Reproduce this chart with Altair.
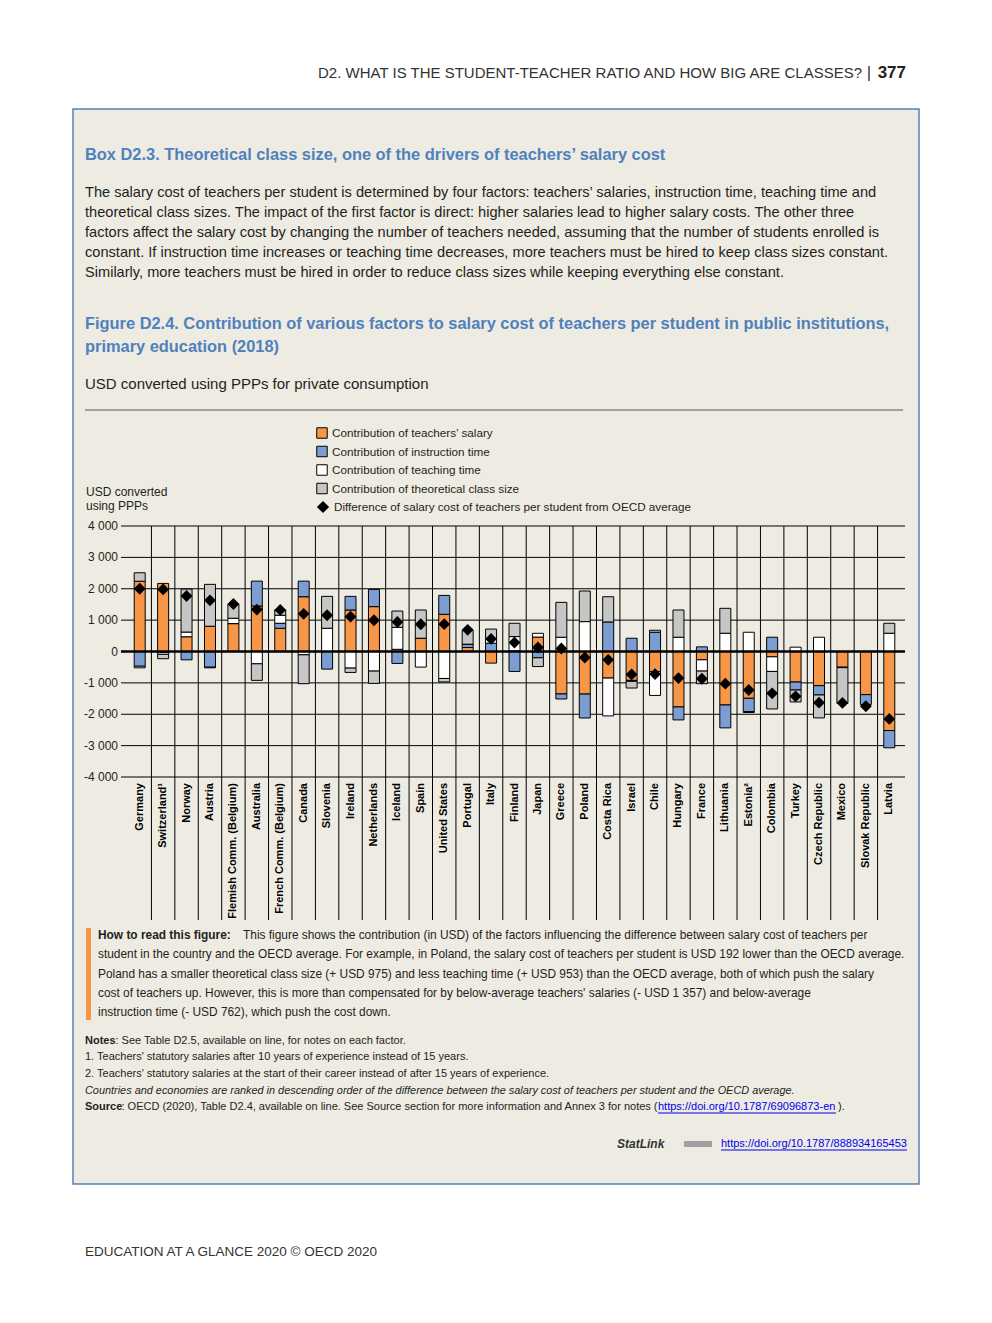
import altair as alt
import pandas as pd

# ---------------- data ----------------
countries = ["Germany", "Switzerland¹", "Norway", "Austria", "Flemish Comm. (Belgium)", "Australia",
             "French Comm. (Belgium)", "Canada", "Slovenia", "Ireland", "Netherlands", "Iceland", "Spain",
             "United States", "Portugal", "Italy", "Finland", "Japan", "Greece", "Poland", "Costa Rica",
             "Israel", "Chile", "Hungary", "France", "Lithuania", "Estonia²", "Colombia", "Turkey",
             "Czech Republic", "Mexico", "Slovak Republic", "Latvia"]
salary = [2240, 2170, 470, 805, 890, 1450, 740, 1746, 0, 1323, 1430, 70, 423, 1185, 127, -370, 20, 460,
          -1354, -1357, -847, -921, -640, -1767, -265, -1704, -1492, -169, -974, -1090, -500, -1375, -2519]
instruction = [-470, -30, -265, -500, 0, 793, 160, 497, -561, 434, 550, -380, 0, 603, 106, 265, -635, -200,
               -159, -762, 942, 423, 614, -413, 148, -730, -423, 455, -254, -296, -15, -318, -550]
teaching = [-50, -60, 150, -20, 170, -392, 255, -106, 741, -529, -624, 700, -497, -860, 0, 120, 456, 120,
            455, 953, -1206, -30, -760, 455, -359, 582, 614, -466, 138, 455, 0, 0, 582]
class_size = [270, -140, 1370, 1335, 455, -528, 170, -920, 1016, -138, -392, 520, 900, -110, 444, 330, 424,
              -280, 1111, 975, 804, -213, 63, 868, -402, 794, -30, -1196, -380, -730, -1140, 0, 318]
difference = [2000, 1980, 1770, 1630, 1515, 1335, 1325, 1200, 1155, 1110, 995, 940, 868, 870, 690, 400,
              286, 127, 95, -192, -265, -730, -720, -847, -868, -1026, -1228, -1333, -1429, -1630, -1640,
              -1745, -2148]
factor_labels = ["Contribution of teachers’ salary", "Contribution of instruction time",
                 "Contribution of teaching time", "Contribution of theoretical class size"]
factor_colors = ["#F79646", "#7C9DD1", "#FFFFFF", "#C6C6C6"]
diff_label = "Difference of salary cost of teachers per student from OECD average"
y_ticks = [-4000, -3000, -2000, -1000, 0, 1000, 2000, 3000, 4000]
y_tick_labels = ["-4 000", "-3 000", "-2 000", "-1 000", "0", "1 000", "2 000", "3 000", "4 000"]

rows = []
for i, c in enumerate(countries):
    for k, vals in enumerate([salary, instruction, teaching, class_size]):
        rows.append({"country": c, "factor": factor_labels[k], "k": k, "value": vals[i]})
bars_df = pd.DataFrame(rows)
diff_df = pd.DataFrame({"country": countries, "diff": difference, "lab": diff_label})
sep_df = pd.DataFrame({"country": countries[1:]})
grid_df = pd.DataFrame({"v": y_ticks, "lab": y_tick_labels})
zero_df = pd.DataFrame({"v": [0]})
cat_df = pd.DataFrame({"country": countries})

# ---------------- layout ----------------
OX, OY = 128, 526          # page position of plot origin
W, H = 773, 251
ARIAL = "Liberation Sans, Arial, sans-serif"
BLUE = "#4F81BD"
INK = "#231F20"

xs = alt.Scale(domain=countries, paddingInner=0, paddingOuter=0)
ys = alt.Scale(domain=[-4000, 4000], nice=False)


def T(text, x, y, size, font=ARIAL, weight="normal", style="normal", color=INK, align="left"):
    return alt.Chart(pd.DataFrame({"t": [text]})).mark_text(
        align=align, baseline="middle", font=font, fontSize=size, fontWeight=weight,
        fontStyle=style, color=color
    ).encode(text="t:N", x=alt.value(x - OX), y=alt.value(y - OY))


def R(x1, x2, y1, y2, fill, stroke=None, sw=0):
    kw = dict(fill=fill)
    if stroke:
        kw.update(stroke=stroke, strokeWidth=sw)
    return alt.Chart(pd.DataFrame({"a": [0]})).mark_rect(**kw).encode(
        x=alt.value(x1 - OX), x2=alt.value(x2 - OX), y=alt.value(y1 - OY), y2=alt.value(y2 - OY))


def L(x1, x2, y, color, sw=1):
    return alt.Chart(pd.DataFrame({"a": [0]})).mark_rule(color=color, strokeWidth=sw).encode(
        x=alt.value(x1 - OX), x2=alt.value(x2 - OX), y=alt.value(y - OY))


box = R(73, 919, 109, 1184, "#EEEBE2", BLUE, 1.5)

grid = alt.Chart(grid_df).mark_rule(color="black", strokeWidth=1).encode(
    y=alt.Y("v:Q", scale=ys, axis=None), x=alt.value(-7), x2=alt.value(777))
ylabels = alt.Chart(grid_df).mark_text(align="right", baseline="middle", font=ARIAL, fontSize=12,
                                       color=INK).encode(
    y=alt.Y("v:Q", scale=ys, axis=None), x=alt.value(-10), text="lab:N")
zero = alt.Chart(zero_df).mark_rule(color="black", strokeWidth=2.5).encode(
    y=alt.Y("v:Q", scale=ys, axis=None), x=alt.value(-7), x2=alt.value(777))
seps = alt.Chart(sep_df).mark_rule(color="black", strokeWidth=1).encode(
    x=alt.X("country:N", scale=xs, bandPosition=0, axis=None),
    y=alt.value(0), y2=alt.value(394))
xlabels = alt.Chart(cat_df).mark_text(angle=270, align="right", baseline="middle", font=ARIAL,
                                      fontSize=11, fontWeight="bold", color="black").encode(
    x=alt.X("country:N", scale=xs, axis=None), y=alt.value(H + 6), text="country:N")

bars = alt.Chart(bars_df).mark_bar(size=11, stroke="black", strokeWidth=1).encode(
    x=alt.X("country:N", scale=xs, axis=None),
    y=alt.Y("value:Q", stack="zero", scale=ys, axis=None),
    color=alt.Color("factor:N", scale=alt.Scale(domain=factor_labels, range=factor_colors),
                    legend=alt.Legend(orient="none", legendX=316 - OX, legendY=427 - OY, title=None,
                                      symbolType="square", symbolSize=110, symbolStrokeColor="black",
                                      symbolStrokeWidth=1, labelFont=ARIAL, labelFontSize=11.7,
                                      labelColor=INK, rowPadding=2.5, padding=0, labelLimit=600,
                                      zindex=2)),
    order=alt.Order("k:Q", sort="ascending"),
)

diamonds = alt.Chart(diff_df).mark_point(filled=True, color="black", size=140, opacity=1).encode(
    x=alt.X("country:N", scale=xs, axis=None),
    y=alt.Y("diff:Q", scale=ys, axis=None),
    shape=alt.Shape("lab:N", scale=alt.Scale(domain=[diff_label], range=["diamond"]),
                    legend=alt.Legend(orient="none", legendX=316 - OX, legendY=500 - OY, title=None,
                                      symbolFillColor="black", symbolStrokeColor="black", symbolSize=150,
                                      labelFont=ARIAL, labelFontSize=11.7, labelColor=INK, padding=0,
                                      labelLimit=600, zindex=2)),
)

texts = [
    T("D2. WHAT IS THE STUDENT-TEACHER RATIO AND HOW BIG ARE CLASSES?", 862, 73, 15, color="#333333", align="right"),
    T("|", 869, 73, 17, color="#333333", align="center"),
    T("377", 906, 73, 17, weight="bold", color="#222222", align="right"),
    T("Box D2.3. Theoretical class size, one of the drivers of teachers’ salary cost", 85, 155, 16.4,
      weight="bold", color=BLUE),
    T("The salary cost of teachers per student is determined by four factors: teachers’ salaries, instruction time, teaching time and", 85, 193, 14.6),
    T("theoretical class sizes. The impact of the first factor is direct: higher salaries lead to higher salary costs. The other three", 85, 213, 14.6),
    T("factors affect the salary cost by changing the number of teachers needed, assuming that the number of students enrolled is", 85, 233, 14.6),
    T("constant. If instruction time increases or teaching time decreases, more teachers must be hired to keep class sizes constant.", 85, 253, 14.6),
    T("Similarly, more teachers must be hired in order to reduce class sizes while keeping everything else constant.", 85, 273, 14.6),
    T("Figure D2.4. Contribution of various factors to salary cost of teachers per student in public institutions,", 85, 324, 16.4,
      weight="bold", color=BLUE),
    T("primary education (2018)", 85, 347, 16.4, weight="bold", color=BLUE),
    T("USD converted using PPPs for private consumption", 85, 384, 15),
    T("USD converted", 86, 492, 12),
    T("using PPPs", 86, 506, 12),
    T("How to read this figure:", 98, 935, 11.9, weight="bold"),
    T("This figure shows the contribution (in USD) of the factors influencing the difference between salary cost of teachers per", 243, 935, 11.9),
    T("student in the country and the OECD average. For example, in Poland, the salary cost of teachers per student is USD 192 lower than the OECD average.", 98, 954, 11.9),
    T("Poland has a smaller theoretical class size (+ USD 975) and less teaching time (+ USD 953) than the OECD average, both of which push the salary", 98, 974, 11.9),
    T("cost of teachers up. However, this is more than compensated for by below-average teachers' salaries (- USD 1 357) and below-average", 98, 993, 11.9),
    T("instruction time (- USD 762), which push the cost down.", 98, 1012, 11.9),
    T("Notes", 85, 1041, 11, weight="bold"),
    T(": See Table D2.5, available on line, for notes on each factor.", 115.5, 1041, 11),
    T("1. Teachers' statutory salaries after 10 years of experience instead of 15 years.", 85, 1057, 11),
    T("2. Teachers' statutory salaries at the start of their career instead of after 15 years of experience.", 85, 1074, 11),
    T("Countries and economies are ranked in descending order of the difference between the salary cost of teachers per student and the OECD average.",
      85, 1091, 10.9, style="italic"),
    T("Source", 85, 1107, 11, weight="bold"),
    T(": OECD (2020), Table D2.4, available on line. See Source section for more information and Annex 3 for notes (", 121.5, 1107, 11),
    T("https://doi.org/10.1787/69096873-en", 658, 1107, 11, color="#0000EE"),
    T(").", 838, 1107, 11),
    T("StatLink", 617, 1144, 12, weight="bold", style="italic", color="#333333"),
    T("https://doi.org/10.1787/888934165453", 721, 1144, 11, color="#0000EE"),
    T("EDUCATION AT A GLANCE 2020 © OECD 2020", 85, 1252, 13.5, color="#333333"),
]

lines = [
    L(85, 903, 410, "#555555", 1),
    L(658, 836, 1113, "#0000EE", 1),
    L(721, 907, 1150, "#0000EE", 1),
    R(86, 91, 928, 1020, "#F79646"),
    R(684, 712, 1141, 1147, "#A0A0A0"),
]

chart = alt.layer(box, grid, ylabels, seps, xlabels, bars, zero, diamonds, *lines, *texts).properties(
    width=W, height=H,
    padding={"left": OX - 8, "top": OY - 8, "right": 976 - (OX - 8) - W, "bottom": 1307 - (OY - 8) - H},
    autosize=alt.AutoSizeParams(type="none"),
    background="white",
).configure_view(strokeWidth=0)

chart.save("out.html", embed_options={"renderer": "svg", "actions": False})
